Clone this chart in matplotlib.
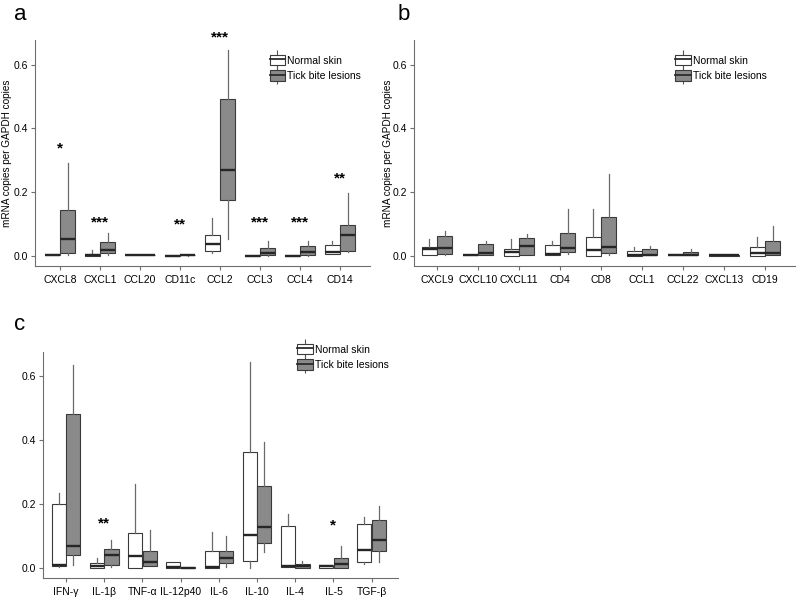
import matplotlib
matplotlib.use('Agg')
import matplotlib.pyplot as plt
from matplotlib.patches import Patch
from matplotlib.lines import Line2D

plt.rcParams['font.family'] = ['Liberation Sans', 'DejaVu Sans']

# five-number summaries: [whisker low, q1, median, q3, whisker high]
a_genes = ['CXCL8', 'CXCL1', 'CCL20', 'CD11c', 'CCL2', 'CCL3', 'CCL4', 'CD14']
a_normal = [[0.001, 0.001, 0.003, 0.005, 0.006],
            [0.0, 0.0, 0.003, 0.007, 0.017],
            [0.001, 0.001, 0.002, 0.003, 0.004],
            [0.0, 0.0, 0.0, 0.001, 0.001],
            [0.008, 0.014, 0.038, 0.065, 0.120],
            [0.0, 0.0, 0.0, 0.001, 0.001],
            [0.0, 0.0, 0.0, 0.001, 0.001],
            [0.005, 0.006, 0.013, 0.033, 0.046]]
a_tick = [[0.003, 0.008, 0.053, 0.144, 0.292],
          [0.003, 0.010, 0.019, 0.043, 0.071],
          [0.001, 0.001, 0.002, 0.003, 0.004],
          [0.0, 0.001, 0.001, 0.002, 0.002],
          [0.054, 0.175, 0.268, 0.491, 0.647],
          [0.0, 0.001, 0.008, 0.024, 0.047],
          [0.0, 0.002, 0.011, 0.031, 0.047],
          [0.012, 0.016, 0.064, 0.097, 0.198]]
a_stars = ['*', '***', '', '**', '***', '***', '***', '**']
a_star_y = [0.336, 0.104, 0, 0.097, 0.685, 0.104, 0.104, 0.243]

b_genes = ['CXCL9', 'CXCL10', 'CXCL11', 'CD4', 'CD8', 'CCL1', 'CCL22', 'CXCL13', 'CD19']
b_normal = [[0.002, 0.003, 0.021, 0.029, 0.054],
            [0.001, 0.001, 0.002, 0.003, 0.003],
            [0.0, 0.0, 0.011, 0.022, 0.052],
            [0.003, 0.003, 0.007, 0.034, 0.046],
            [0.0, 0.0, 0.017, 0.060, 0.146],
            [0.0, 0.0, 0.003, 0.014, 0.029],
            [0.002, 0.003, 0.004, 0.006, 0.006],
            [0.0, 0.0, 0.001, 0.001, 0.002],
            [0.0, 0.0, 0.008, 0.028, 0.060]]
b_tick = [[0.004, 0.005, 0.024, 0.0625, 0.079],
          [0.001, 0.001, 0.008, 0.036, 0.048],
          [0.003, 0.004, 0.031, 0.056, 0.068],
          [0.005, 0.0125, 0.024, 0.071, 0.147],
          [0.003, 0.008, 0.029, 0.121, 0.258],
          [0.001, 0.001, 0.003, 0.021, 0.031],
          [0.002, 0.002, 0.004, 0.0125, 0.021],
          [0.0, 0.0, 0.001, 0.002, 0.002],
          [0.002, 0.003, 0.010, 0.048, 0.092]]

c_genes = ['IFN-γ', 'IL-1β', 'TNF-α', 'IL-12p40', 'IL-6', 'IL-10', 'IL-4', 'IL-5', 'TGF-β']
c_normal = [[0.003, 0.005, 0.008, 0.200, 0.235],
            [0.001, 0.001, 0.007, 0.016, 0.030],
            [0.0, 0.0, 0.039, 0.110, 0.263],
            [0.0, 0.0, 0.002, 0.019, 0.019],
            [0.0, 0.0, 0.002, 0.052, 0.113],
            [0.0, 0.021, 0.104, 0.364, 0.646],
            [0.003, 0.003, 0.006, 0.133, 0.169],
            [0.0, 0.0, 0.005, 0.008, 0.010],
            [0.013, 0.018, 0.056, 0.138, 0.159]]
c_tick = [[0.010, 0.040, 0.068, 0.482, 0.634],
          [0.002, 0.010, 0.042, 0.059, 0.089],
          [0.005, 0.005, 0.019, 0.054, 0.118],
          [0.0, 0.0, 0.001, 0.002, 0.002],
          [0.003, 0.016, 0.031, 0.052, 0.101],
          [0.049, 0.078, 0.127, 0.258, 0.395],
          [0.001, 0.001, 0.006, 0.014, 0.021],
          [0.001, 0.001, 0.013, 0.031, 0.068],
          [0.018, 0.052, 0.089, 0.151, 0.195]]
c_stars = ['', '**', '', '', '', '', '', '*', '']
c_star_y = [0, 0.138, 0, 0, 0, 0, 0, 0.133, 0]

groups = ['Normal skin', 'Tick bite lesions']
fills = ['white', '#8a8a8a']
edge = '#3a3a3a'
axcol = '#6e6e6e'
fs = 7.5


def to_stats(rows):
    return [dict(whislo=r[0], q1=r[1], med=r[2], q3=r[3], whishi=r[4]) for r in rows]


def draw_panel(ax, genes, normal, tick, xlim, stars=None, star_y=None):
    n = len(genes)
    pos = list(range(1, n + 1))
    for data, off, fc in [(normal, -0.19, fills[0]), (tick, 0.19, fills[1])]:
        ax.bxp(to_stats(data), positions=[p + off for p in pos], widths=0.37,
               patch_artist=True, showcaps=False, showfliers=False,
               boxprops=dict(facecolor=fc, edgecolor=edge, linewidth=0.8),
               medianprops=dict(color='#262626', linewidth=1.7),
               whiskerprops=dict(color='#6a6a6a', linewidth=0.9))
    ax.set_xticks(pos)
    ax.set_xticklabels(genes, fontsize=fs)
    ax.set_xlim(*xlim)
    ax.set_ylim(-0.032, 0.677)
    ax.set_yticks([0.0, 0.2, 0.4, 0.6])
    ax.set_yticklabels(['0.0', '0.2', '0.4', '0.6'], fontsize=fs)
    for s in ['top', 'right']:
        ax.spines[s].set_visible(False)
    for s in ['left', 'bottom']:
        ax.spines[s].set_color(axcol)
        ax.spines[s].set_linewidth(0.8)
    ax.tick_params(colors=axcol, labelcolor='black', length=3, width=0.8)
    ax.tick_params(axis='y', pad=2)
    if stars:
        for p, s, y in zip(pos, stars, star_y):
            if s:
                ax.text(p, y, s, ha='center', va='center', fontsize=11,
                        fontweight='bold', clip_on=False)


def add_legend(ax, x, y):
    handles = []
    for fc in fills:
        whisk = Line2D([], [], color='#555555', marker='|', markersize=13,
                       markeredgewidth=0.8, linestyle='none')
        box = Patch(facecolor=fc, edgecolor=edge, linewidth=0.8)
        med = Line2D([], [], color='#2b2b2b', linewidth=1.3)
        handles.append((whisk, box, med))
    ax.legend(handles, groups, loc='upper left', bbox_to_anchor=(x, y),
              frameon=False, fontsize=fs, handlelength=1.5, handleheight=1.2,
              handletextpad=0.2, labelspacing=0.45, borderpad=0, borderaxespad=0)


fig = plt.figure(figsize=(8, 5.99), dpi=100)
ax_a = fig.add_axes([0.04375, 0.5559, 0.41875, 0.3773])
ax_b = fig.add_axes([0.5175, 0.5559, 0.47625, 0.3773])
ax_c = fig.add_axes([0.0534, 0.0346, 0.4441, 0.3783])

draw_panel(ax_a, a_genes, a_normal, a_tick, (0.375, 8.75), a_stars, a_star_y)
draw_panel(ax_b, b_genes, b_normal, b_tick, (0.44, 9.73))
draw_panel(ax_c, c_genes, c_normal, c_tick, (0.39, 9.69), c_stars, c_star_y)

ax_a.set_ylabel('mRNA copies per GAPDH copies', fontsize=7.2)
ax_a.yaxis.set_label_coords(-0.069, 0.5)
ax_b.set_ylabel('mRNA copies per GAPDH copies', fontsize=7.2)
ax_b.yaxis.set_label_coords(-0.055, 0.5)

add_legend(ax_a, 0.70, 0.935)
add_legend(ax_b, 0.685, 0.935)
add_legend(ax_c, 0.716, 1.035)

fig.text(0.018, 0.975, 'a', fontsize=16, va='center')
fig.text(0.497, 0.975, 'b', fontsize=16, va='center')
fig.text(0.018, 0.459, 'c', fontsize=16, va='center')

fig.savefig('out.png', dpi=100)
